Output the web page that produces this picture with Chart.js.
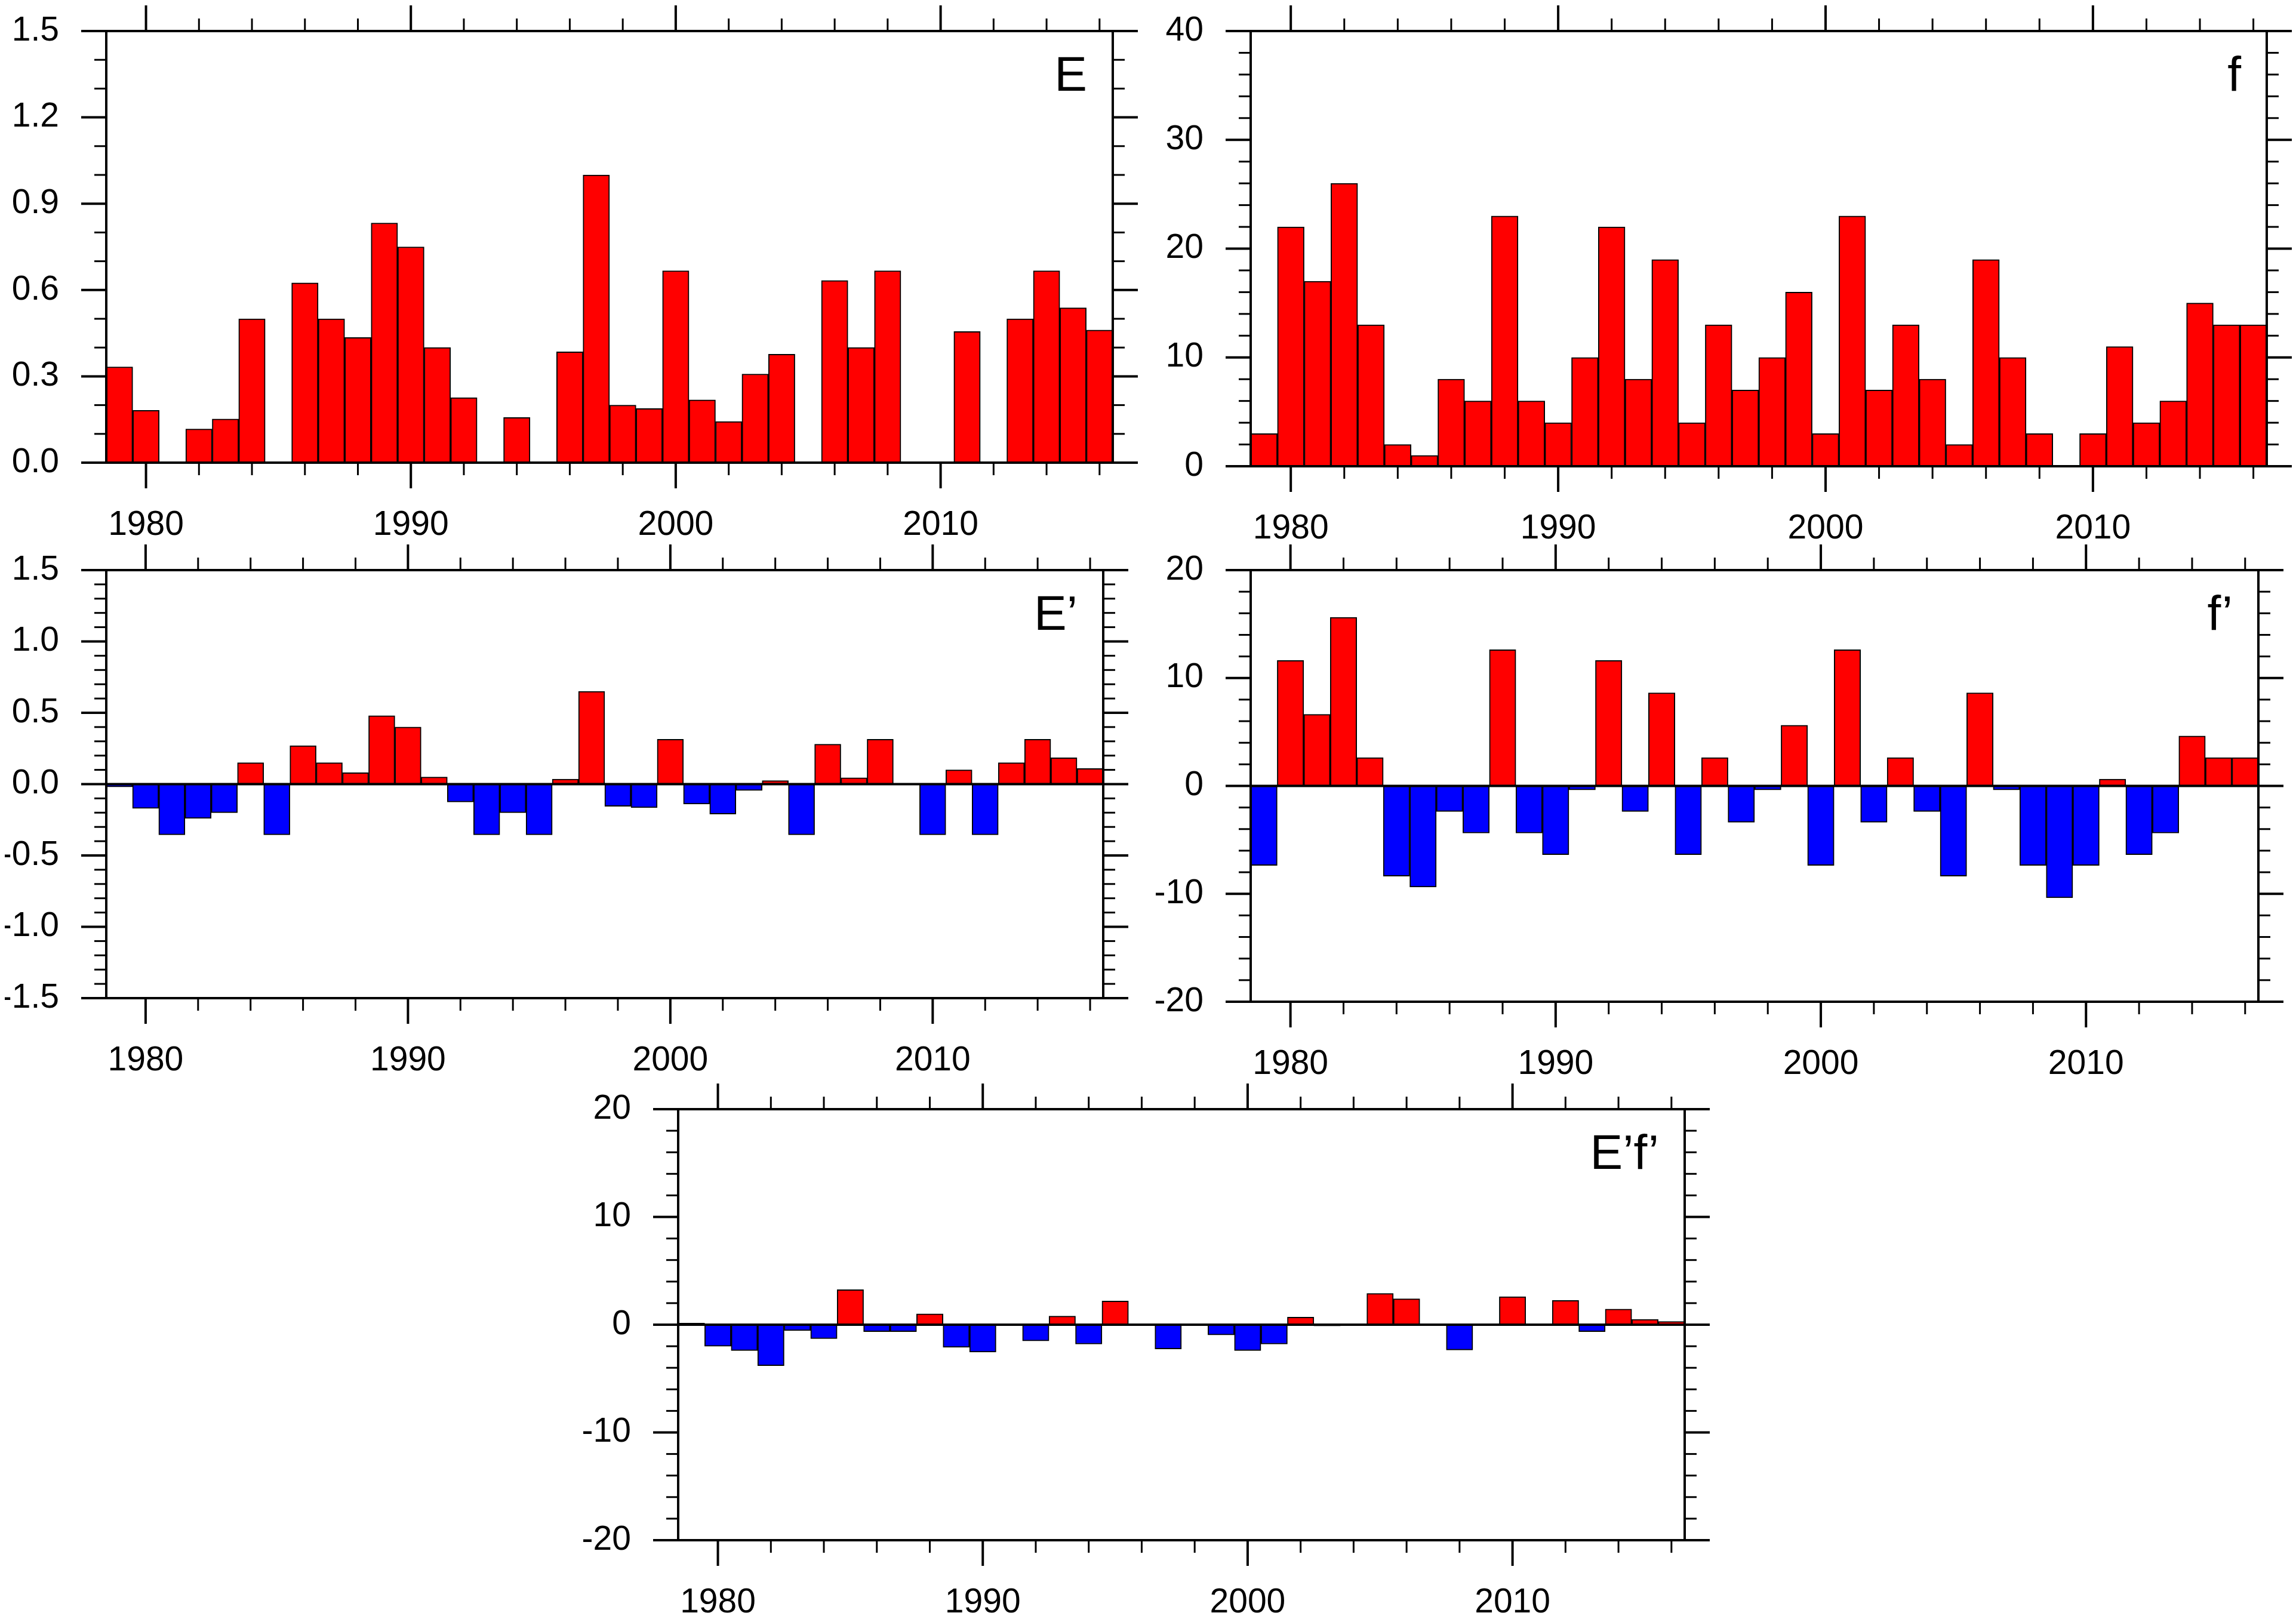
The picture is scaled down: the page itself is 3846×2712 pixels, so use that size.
<!DOCTYPE html>
<html>
<head>
<meta charset="utf-8">
<script src="https://cdn.jsdelivr.net/npm/chart.js@4.4.0/dist/chart.umd.min.js"></script>
<style>
  body { margin: 0; background: #fff; width: 3846px; height: 2712px; position: relative; overflow: hidden; }
  canvas { position: absolute; }
</style>
</head>
<body>
<canvas id="cE"></canvas>
<canvas id="cF"></canvas>
<canvas id="cEp"></canvas>
<canvas id="cFp"></canvas>
<canvas id="cEF"></canvas>
<script>
// categories
const years = [1979, 1980, 1981, 1982, 1983, 1984, 1985, 1986, 1987, 1988,
               1989, 1990, 1991, 1992, 1993, 1994, 1995, 1996, 1997, 1998,
               1999, 2000, 2001, 2002, 2003, 2004, 2005, 2006, 2007, 2008,
               2009, 2010, 2011, 2012, 2013, 2014, 2015, 2016];
const xTickLabels = [1980, 1990, 2000, 2010];

// series
const eVals = [0.333, 0.182, 0, 0.117, 0.152, 0.5, 0, 0.625, 0.5, 0.435,
               0.833, 0.75, 0.4, 0.226, 0, 0.157, 0, 0.385, 1.0, 0.2,
               0.188, 0.667, 0.218, 0.143, 0.308, 0.377, 0, 0.633, 0.4, 0.667,
               null, 0, 0.456, 0, 0.5, 0.667, 0.538, 0.461];
const fVals = [3, 22, 17, 26, 13, 2, 1, 8, 6, 23,
               6, 4, 10, 22, 8, 19, 4, 13, 7, 10,
               16, 3, 23, 7, 13, 8, 2, 19, 10, 3,
               0, 3, 11, 4, 6, 15, 13, 13];
const ePrime = [-0.02, -0.17, -0.355, -0.24, -0.2, 0.15, -0.355, 0.27, 0.15, 0.08,
                0.48, 0.40, 0.05, -0.125, -0.355, -0.2, -0.355, 0.035, 0.65, -0.155,
                -0.165, 0.315, -0.14, -0.21, -0.045, 0.025, -0.355, 0.28, 0.045, 0.315,
                null, -0.355, 0.10, -0.355, 0.15, 0.315, 0.185, 0.11];
const fPrime = [-7.37, 11.63, 6.63, 15.63, 2.63, -8.37, -9.37, -2.37, -4.37, 12.63,
                -4.37, -6.37, -0.37, 11.63, -2.37, 8.63, -6.37, 2.63, -3.37, -0.37,
                5.63, -7.37, 12.63, -3.37, 2.63, -2.37, -8.37, 8.63, -0.37, -7.37,
                -10.37, -7.37, 0.63, -6.37, -4.37, 4.63, 2.63, 2.63];
const efPrime = [0.15, -2.0, -2.4, -3.8, -0.55, -1.3, 3.25, -0.65, -0.65, 1.0,
                 -2.1, -2.55, -0.02, -1.5, 0.8, -1.8, 2.2, 0.09, -2.25, 0.06,
                 -0.95, -2.4, -1.8, 0.7, -0.12, -0.06, 2.9, 2.4, -0.02, -2.35,
                 null, 2.6, 0.06, 2.25, -0.65, 1.45, 0.5, 0.3];

// y tick labels
const yTicksE  = ['0.0', '0.3', '0.6', '0.9', '1.2', '1.5'];
const yTicksF  = ['0', '10', '20', '30', '40'];
const yTicksEp = ['-1.5', '-1.0', '-0.5', '0.0', '0.5', '1.0', '1.5'];
const yTicksFp = ['-20', '-10', '0', '10', '20'];
const yTicksEF = ['-20', '-10', '0', '10', '20'];

const FONT = 'Liberation Sans';
const AY_W = 170, AX_H = 170, PAD_T = 60, PAD_R = 60;

// outward NCL-style tickmarks, frame, zero line and panel letter
const nclFrame = {
    id: 'nclFrame',
    afterDatasetsDraw(chart, args, o) {
        const ctx = chart.ctx;
        const a = chart.chartArea;
        const x = chart.scales.x, y = chart.scales.y;
        const line = (x1, y1, x2, y2, w) => {
            ctx.lineWidth = w;
            ctx.beginPath();
            ctx.moveTo(x1, y1);
            ctx.lineTo(x2, y2);
            ctx.stroke();
        };
        ctx.save();
        ctx.strokeStyle = '#000';
        ctx.lineCap = 'butt';

        if (o.zero) {
            const pz = y.getPixelForValue(0);
            line(a.left, pz, a.right, pz, 4);
        }

        ctx.lineWidth = 4;
        ctx.strokeRect(a.left, a.top, a.right - a.left, a.bottom - a.top);

        years.forEach((yr, i) => {
            if (yr % 2) return;
            const major = xTickLabels.includes(yr);
            const len = major ? 43 : 21, w = major ? 4 : 3;
            const px = x.getPixelForValue(i);
            line(px, a.bottom, px, a.bottom + len, w);
            line(px, a.top, px, a.top - len, w);
        });

        const n = Math.round((o.max - o.min) / o.minor);
        const ratio = Math.round(o.major / o.minor);
        for (let k = 0; k <= n; k++) {
            const v = o.min + k * o.minor;
            const major = k % ratio === 0;
            const len = major ? 42 : 20, w = major ? 4 : 3;
            const py = y.getPixelForValue(v);
            line(a.left - len, py, a.left, py, w);
            line(a.right, py, a.right + len, py, w);
        }

        ctx.fillStyle = '#000';
        ctx.font = '82px "' + FONT + '"';
        ctx.textAlign = 'right';
        ctx.textBaseline = 'alphabetic';
        ctx.fillText(o.label, a.right - 43, a.top + 100);
        ctx.restore();
    }
};

function makePanel(id, rect, values, yLabels, minor, label, zero) {
    const cv = document.getElementById(id);
    const w = (rect.R - rect.L) + AY_W + PAD_R;
    const h = (rect.B - rect.T) + PAD_T + AX_H;
    cv.width = w;
    cv.height = h;
    cv.style.left = (rect.L - AY_W) + 'px';
    cv.style.top = (rect.T - PAD_T) + 'px';

    const yNums = yLabels.map(t => parseFloat(t));
    const ymin = yNums[0], ymax = yNums[yNums.length - 1];

    const chart = new Chart(cv, {
        type: 'bar',
        data: {
            labels: years,
            datasets: [{
                data: values,
                backgroundColor: c => (c.raw !== null && c.raw < 0) ? '#0000ff' : '#ff0000',
                borderColor: '#000',
                borderWidth: 2,
                borderSkipped: false,
                categoryPercentage: 1,
                barPercentage: 1
            }]
        },
        options: {
            responsive: false,
            maintainAspectRatio: false,
            animation: false,
            devicePixelRatio: 1,
            layout: { padding: { top: PAD_T, right: PAD_R, left: 0, bottom: 0 } },
            plugins: {
                legend: { display: false },
                tooltip: { enabled: false },
                nclFrame: { min: ymin, max: ymax, major: yNums[1] - yNums[0], minor: minor, label: label, zero: zero }
            },
            scales: {
                x: {
                    grid: { display: false, drawTicks: false },
                    border: { display: false },
                    ticks: {
                        autoSkip: false, maxRotation: 0, minRotation: 0, padding: 71,
                        color: '#000', font: { family: FONT, size: 57 },
                        callback: (v, i) => xTickLabels.includes(years[i]) ? String(years[i]) : ''
                    },
                    afterFit: s => { s.height = AX_H; s.paddingLeft = 0; s.paddingRight = 0; }
                },
                y: {
                    min: ymin, max: ymax,
                    grid: { display: false, drawTicks: false },
                    border: { display: false },
                    ticks: {
                        padding: 79, color: '#000', font: { family: FONT, size: 57 },
                        callback: v => {
                            const k = yNums.findIndex(t => Math.abs(t - v) < 1e-9);
                            return k >= 0 ? yLabels[k] : '';
                        }
                    },
                    afterBuildTicks: s => { s.ticks = yNums.map(t => ({ value: t })); },
                    afterFit: s => { s.width = AY_W; s.paddingTop = 0; s.paddingBottom = 0; }
                }
            }
        },
        plugins: [nclFrame]
    });

    // nudge the layout padding until the plot frame sits where the figure has it
    for (let it = 0; it < 3; it++) {
        const a = chart.chartArea;
        const p = chart.options.layout.padding;
        p.top += PAD_T - a.top;
        p.left += AY_W - a.left;
        p.right += a.right - (w - PAD_R);
        p.bottom += a.bottom - (h - AX_H);
        chart.update();
    }
    return chart;
}

makePanel('cE',  { L: 178,  T: 52,   R: 1864, B: 775 },  eVals,   yTicksE,  0.1, 'E', false);
makePanel('cF',  { L: 2095, T: 52,   R: 3797, B: 781 },  fVals,   yTicksF,  2,   'f', false);
makePanel('cEp', { L: 178,  T: 955,  R: 1848, B: 1672 }, ePrime,  yTicksEp, 0.1, 'E\u2019', true);
makePanel('cFp', { L: 2095, T: 955,  R: 3783, B: 1678 }, fPrime,  yTicksFp, 2,   'f\u2019', true);
makePanel('cEF', { L: 1136, T: 1858, R: 2822, B: 2580 }, efPrime, yTicksEF, 2,   'E\u2019f\u2019', true);
</script>
</body>
</html>
